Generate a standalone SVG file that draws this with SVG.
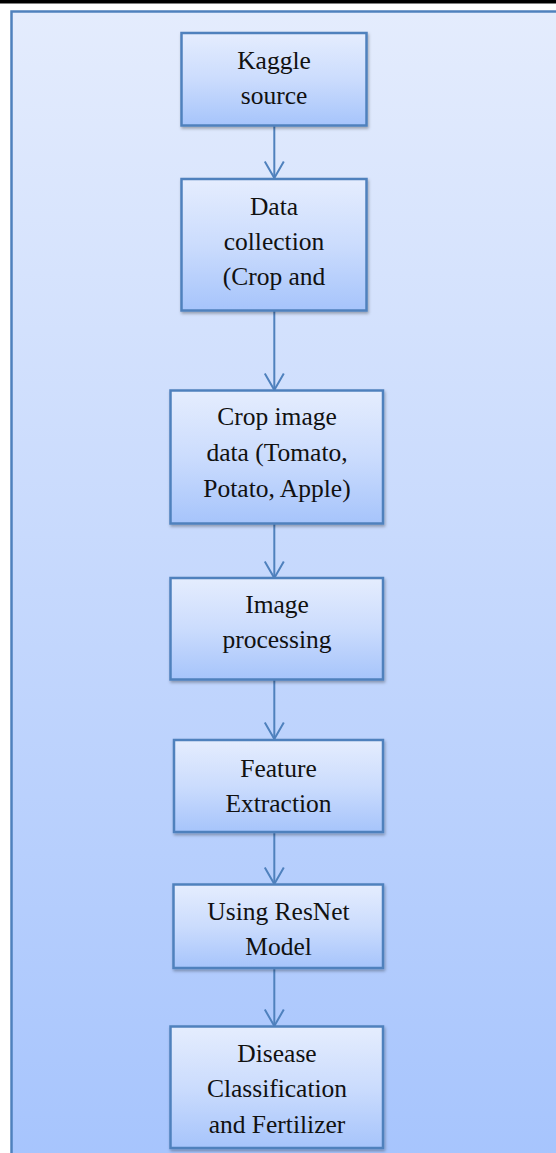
<svg xmlns="http://www.w3.org/2000/svg" width="556" height="1153" viewBox="0 0 556 1153">
  <defs>
    <linearGradient id="bg" x1="0" y1="0" x2="0" y2="1">
      <stop offset="0" stop-color="#e4ecfd"/>
      <stop offset="1" stop-color="#a6c4fd"/>
    </linearGradient>
    <linearGradient id="nodefill" x1="0" y1="0" x2="0" y2="1">
      <stop offset="0" stop-color="#e5edfe"/>
      <stop offset="0.5" stop-color="#cbdcfd"/>
      <stop offset="1" stop-color="#a6c4fb"/>
    </linearGradient>
    <filter id="shadow" x="-10%" y="-10%" width="125%" height="130%">
      <feDropShadow dx="1" dy="2" stdDeviation="1.5" flood-color="#000" flood-opacity="0.3"/>
    </filter>
    <marker id="arrow" viewBox="0 0 20 22" refX="18" refY="11" markerWidth="20" markerHeight="22" markerUnits="userSpaceOnUse" orient="auto">
      <path d="M1.5,1.5 L18,11 L1.5,20.5" fill="none" stroke="#4f81bd" stroke-width="2"/>
    </marker>
  </defs>
  <style>
    .node rect { fill: url(#nodefill); stroke: #4f81bd; stroke-width: 2.5; filter: url(#shadow); }
    .node text { font-size: 25.5px; fill: #111; text-anchor: middle; }
    .conn line { stroke: #4f81bd; stroke-width: 2; }
  </style>
  <rect x="0" y="0" width="556" height="1153" fill="#ffffff"/>
  <rect x="0" y="0" width="556" height="3.5" fill="#000000"/>
  <rect id="frame" x="11.5" y="11.5" width="560" height="1160" fill="url(#bg)" stroke="#4f81bd" stroke-width="2.5"/>

  <g id="connectors" class="conn">
    <line x1="274.3" y1="126" x2="274.3" y2="178" marker-end="url(#arrow)"/>
    <line x1="274.3" y1="311" x2="274.3" y2="390" marker-end="url(#arrow)"/>
    <line x1="274.3" y1="524" x2="274.3" y2="578" marker-end="url(#arrow)"/>
    <line x1="274.3" y1="680" x2="274.3" y2="739" marker-end="url(#arrow)"/>
    <line x1="274.3" y1="832" x2="274.3" y2="884" marker-end="url(#arrow)"/>
    <line x1="274.3" y1="968" x2="274.3" y2="1026" marker-end="url(#arrow)"/>
  </g>

  <g font-family="'Liberation Serif', 'DejaVu Serif', serif">
  <g id="node-kaggle" class="node">
    <rect x="181.5" y="33" width="185" height="92.5"/>
    <text x="274" y="69">Kaggle</text>
    <text x="274" y="104">source</text>
  </g>
  <g id="node-data-collection" class="node">
    <rect x="181.5" y="179" width="185" height="131.5"/>
    <text x="274" y="215">Data</text>
    <text x="274" y="250">collection</text>
    <text x="274" y="285">(Crop and</text>
  </g>
  <g id="node-crop-image" class="node">
    <rect x="170.5" y="390.5" width="212.5" height="133"/>
    <text x="277" y="425">Crop image</text>
    <text x="277" y="461">data (Tomato,</text>
    <text x="277" y="497">Potato, Apple)</text>
  </g>
  <g id="node-image-processing" class="node">
    <rect x="170.5" y="578" width="212.5" height="101.5"/>
    <text x="277" y="613">Image</text>
    <text x="277" y="648">processing</text>
  </g>
  <g id="node-feature-extraction" class="node">
    <rect x="174" y="740" width="209" height="92"/>
    <text x="278.5" y="777">Feature</text>
    <text x="278.5" y="812">Extraction</text>
  </g>
  <g id="node-resnet" class="node">
    <rect x="173.5" y="884.5" width="209.5" height="83.5"/>
    <text x="278.5" y="920">Using ResNet</text>
    <text x="278.5" y="955">Model</text>
  </g>
  <g id="node-disease" class="node">
    <rect x="170.5" y="1026.5" width="212.5" height="121.5"/>
    <text x="277" y="1062">Disease</text>
    <text x="277" y="1097">Classification</text>
    <text x="277" y="1132.5">and Fertilizer</text>
  </g>
  </g>
</svg>
